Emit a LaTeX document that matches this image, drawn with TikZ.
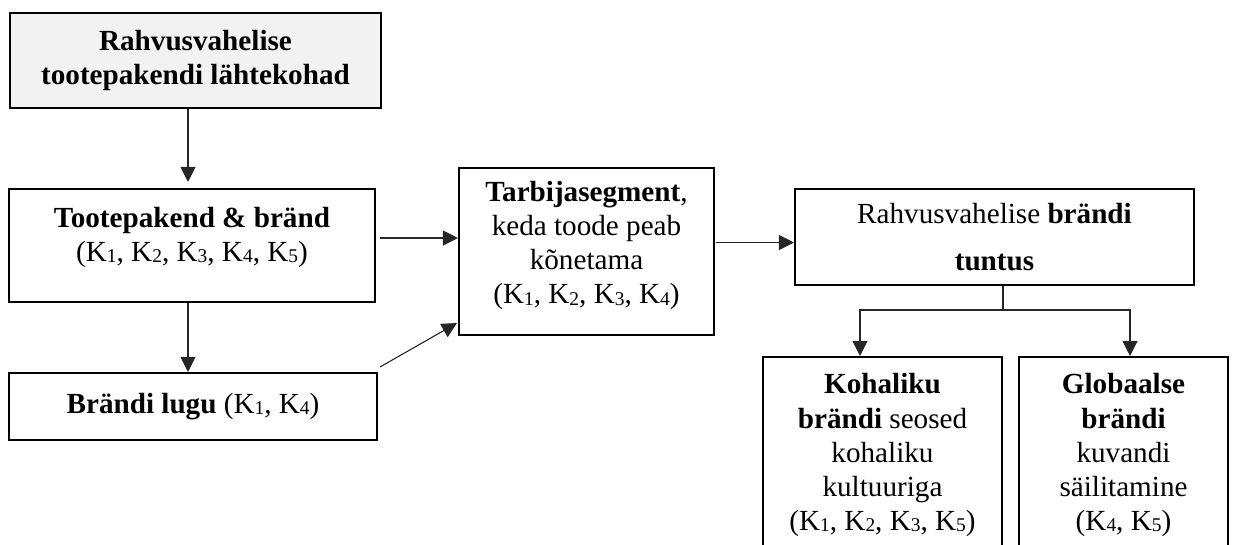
\documentclass[tikz,border=0pt]{standalone}
\usepackage{fontspec}
\setmainfont{Liberation Serif}
\usetikzlibrary{arrows.meta,calc}
\newcommand{\Kk}[1]{K\raisebox{-0.5pt}{\fontsize{8}{8}\selectfont #1}}
\definecolor{boxgray}{HTML}{F2F2F2}
\tikzset{
  box/.style={draw=black, line width=0.85pt, rectangle, inner sep=0pt, align=center,
    font=\fontsize{12}{14}\selectfont},
  arr/.style={draw=black!85, line width=0.45pt, -{Triangle[length=6.2pt,width=6.2pt]}},
  conn/.style={draw=black!85, line width=0.45pt}
}
\begin{document}
\begin{tikzpicture}[x=0.4115pt,y=-0.4115pt]
\useasboundingbox (0,0) rectangle (1235,544);
\clip (0,0) rectangle (1235,544);
\node[box, fill=boxgray, minimum width=371*0.4115pt, minimum height=95*0.4115pt] (b1) at (195.5,60.5)
  {\textbf{Rahvusvahelise}\\ \textbf{tootepakendi lähtekohad}};
\node[box, minimum width=366*0.4115pt, minimum height=113*0.4115pt, text depth=9.5pt] (b2) at (192,245.5)
  {\textbf{Tootepakend \& bränd}\\(\Kk1, \Kk2, \Kk3, \Kk4, \Kk5)};
\node[box, minimum width=368*0.4115pt, minimum height=67*0.4115pt] (b3) at (193,406.5)
  {\textbf{Brändi lugu} (\Kk1, \Kk4)};
\node[box, minimum width=255*0.4115pt, minimum height=167*0.4115pt, text depth=7.3pt] (t) at (586.5,251.5)
  {\textbf{Tarbijasegment},\\ keda toode peab\\ kõnetama\\ (\Kk1, \Kk2, \Kk3, \Kk4)};
\node[box, minimum width=399*0.4115pt, minimum height=96*0.4115pt, font=\fontsize{12}{19.7}\selectfont] (r) at (994.5,237)
  {Rahvusvahelise \textbf{brändi}\\ \textbf{tuntus}};
\node[box, minimum width=239*0.4115pt, minimum height=196*0.4115pt] (k) at (882.5,455)
  {\textbf{Kohaliku}\\ \textbf{brändi} seosed\\ kohaliku\\ kultuuriga\\ (\Kk1, \Kk2, \Kk3, \Kk5)};
\node[box, minimum width=209*0.4115pt, minimum height=196*0.4115pt] (g) at (1123.5,455)
  {\textbf{Globaalse}\\ \textbf{brändi}\\ kuvandi\\ säilitamine\\ (\Kk4, \Kk5)};
% connectors
\draw[arr] ($(b1.south)+(-7.5,0)$) -- ($(b2.north)+(-4,-6)$);
\draw[arr] ($(b2.south)+(-4,0)$) -- ($(b3.north)+(-5,0)$);
\draw[arr] ($(b2.east)+(4,-7.5)$) -- ($(t.west)+(0,-13.5)$);
\draw[arr] ($(b3.north east)+(2,-5)$) -- ($(t.south west)+(-1,-13)$);
\draw[arr] ($(t.east)+(1,-9)$) -- ($(r.west)+(0,5.5)$);
\coordinate (j) at ($(r.south)+(8.5,24)$);
\draw[conn] ($(r.south)+(8.5,0)$) -- (j);
\draw[arr] (j) -| ($(k.north)+(-22.5,0)$);
\draw[arr] (j) -| ($(g.north)+(6.5,0)$);
\end{tikzpicture}
\end{document}
